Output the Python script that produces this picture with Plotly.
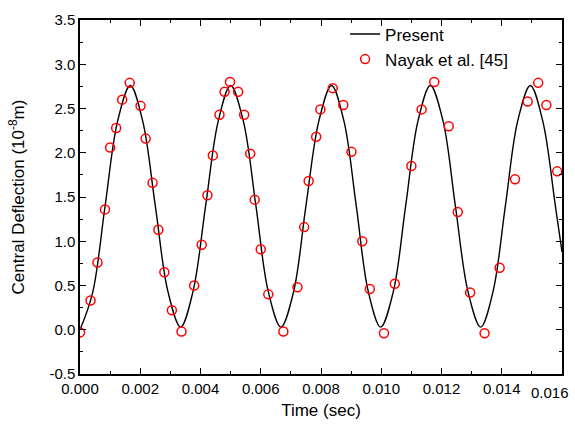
import plotly.graph_objects as go

# Present (solid line)
curve_t = [0, 0.00042, 0.00083, 0.00125, 0.00167, 0.00208, 0.0025, 0.00292, 0.00334,
           0.00375, 0.00417, 0.00459, 0.005, 0.00542, 0.00584, 0.00625, 0.00667,
           0.00709, 0.0075, 0.00793, 0.00835, 0.00876, 0.00917, 0.00957, 0.00998,
           0.0104, 0.01081, 0.01122, 0.01163, 0.01205, 0.01246, 0.01288, 0.0133,
           0.01371, 0.01412, 0.01453, 0.01495, 0.01536, 0.01578, 0.016]
curve_y = [0.0, 0.42, 1.39, 2.36, 2.76, 2.36, 1.40, 0.43, 0.03,
           0.43, 1.40, 2.36, 2.76, 2.36, 1.40, 0.43, 0.03,
           0.43, 1.40, 2.36, 2.76, 2.36, 1.40, 0.43, 0.03,
           0.43, 1.40, 2.36, 2.76, 2.36, 1.40, 0.43, 0.03,
           0.43, 1.40, 2.36, 2.76, 2.36, 1.40, 0.88]

# Nayak et al. [45] (open circles)
nayak_t = [0, 0.00035, 0.00058, 0.00083, 0.001, 0.0012, 0.0014, 0.00165, 0.00201,
           0.00218, 0.00241, 0.0026, 0.0028, 0.00305, 0.00337, 0.00379, 0.00404,
           0.00423, 0.00441, 0.00463, 0.0048, 0.00498, 0.00525, 0.00545, 0.00565,
           0.0058, 0.006, 0.00625, 0.00675, 0.00722, 0.00744, 0.00759, 0.00784,
           0.00798, 0.00839, 0.00874, 0.00901, 0.00937, 0.00962, 0.01009, 0.01045,
           0.0110, 0.01134, 0.01176, 0.01224, 0.01254, 0.01295, 0.01343, 0.01393,
           0.01444, 0.01486, 0.01521, 0.01548, 0.01584]
nayak_y = [-0.03, 0.33, 0.76, 1.36, 2.06, 2.28, 2.60, 2.79, 2.53,
           2.16, 1.66, 1.13, 0.65, 0.22, -0.02, 0.50, 0.96,
           1.52, 1.97, 2.43, 2.69, 2.80, 2.69, 2.43, 1.99,
           1.47, 0.91, 0.40, -0.02, 0.48, 1.16, 1.68, 2.18,
           2.49, 2.73, 2.54, 2.01, 1.00, 0.46, -0.04, 0.52,
           1.85, 2.49, 2.80, 2.30, 1.33, 0.42, -0.04, 0.70,
           1.70, 2.58, 2.79, 2.54, 1.79]

x_ticks = [0, 0.002, 0.004, 0.006, 0.008, 0.010, 0.012, 0.014, 0.016]
x_labels = ["0.000", "0.002", "0.004", "0.006", "0.008", "0.010", "0.012", "0.014", "0.016"]
y_ticks = [-0.5, 0.0, 0.5, 1.0, 1.5, 2.0, 2.5, 3.0, 3.5]
y_labels = ["-0.5", "0.0", "0.5", "1.0", "1.5", "2.0", "2.5", "3.0", "3.5"]

FONT = "Liberation Sans, Arial, sans-serif"

fig = go.Figure()
fig.add_trace(go.Scatter(x=curve_t, y=curve_y, mode="lines", name="Present",
                         line=dict(color="black", width=1.4, shape="spline", smoothing=1.0)))
fig.add_trace(go.Scatter(x=nayak_t, y=nayak_y, mode="markers", name="Nayak et al. [45]",
                         marker=dict(symbol="circle-open", color="red", size=9,
                                     line=dict(width=1.5, color="red"))))

axis_common = dict(showgrid=False, zeroline=False, showline=True, linecolor="black",
                   linewidth=1.5, mirror="ticks", ticks="inside", ticklen=6, tickwidth=1,
                   tickcolor="black", tickfont=dict(size=15, color="black", family=FONT),
                   tickmode="array")

# last x label (at the right edge) is drawn as an annotation so it fits inside the page
fig.update_xaxes(range=[x_ticks[0], x_ticks[-1]], tickvals=x_ticks[:-1],
                 ticktext=x_labels[:-1],
                 minor=dict(ticks="inside", ticklen=3, tickwidth=1, tickcolor="black",
                            tickmode="linear", tick0=x_ticks[0], dtick=(x_ticks[1] - x_ticks[0]) / 2),
                 title=dict(text="Time (sec)", font=dict(size=17, color="black", family=FONT), standoff=8),
                 **axis_common)
fig.update_yaxes(range=[y_ticks[0], y_ticks[-1]], tickvals=y_ticks, ticktext=y_labels,
                 minor=dict(ticks="inside", ticklen=3, tickwidth=1, tickcolor="black",
                            tickmode="linear", tick0=y_ticks[0], dtick=(y_ticks[1] - y_ticks[0]) / 2),
                 title=dict(text="Central Deflection (10<sup>-8</sup>m)",
                            font=dict(size=17, color="black", family=FONT), standoff=20),
                 **axis_common)

fig.add_annotation(x=x_ticks[-1], xref="x", y=0, yref="paper", text=x_labels[-1],
                   showarrow=False, xanchor="right", yanchor="middle", xshift=9, yshift=-18,
                   font=dict(size=15, color="black", family=FONT))

fig.update_layout(
    width=575, height=429,
    margin=dict(l=80, r=11, t=15, b=55),
    plot_bgcolor="white", paper_bgcolor="white",
    font=dict(family=FONT, color="black"),
    legend=dict(x=0.55, y=1.01, xanchor="left", yanchor="top",
                bgcolor="rgba(0,0,0,0)", font=dict(size=17, color="black", family=FONT),
                tracegroupgap=0, itemwidth=30),
)

fig.write_html("out.html")
